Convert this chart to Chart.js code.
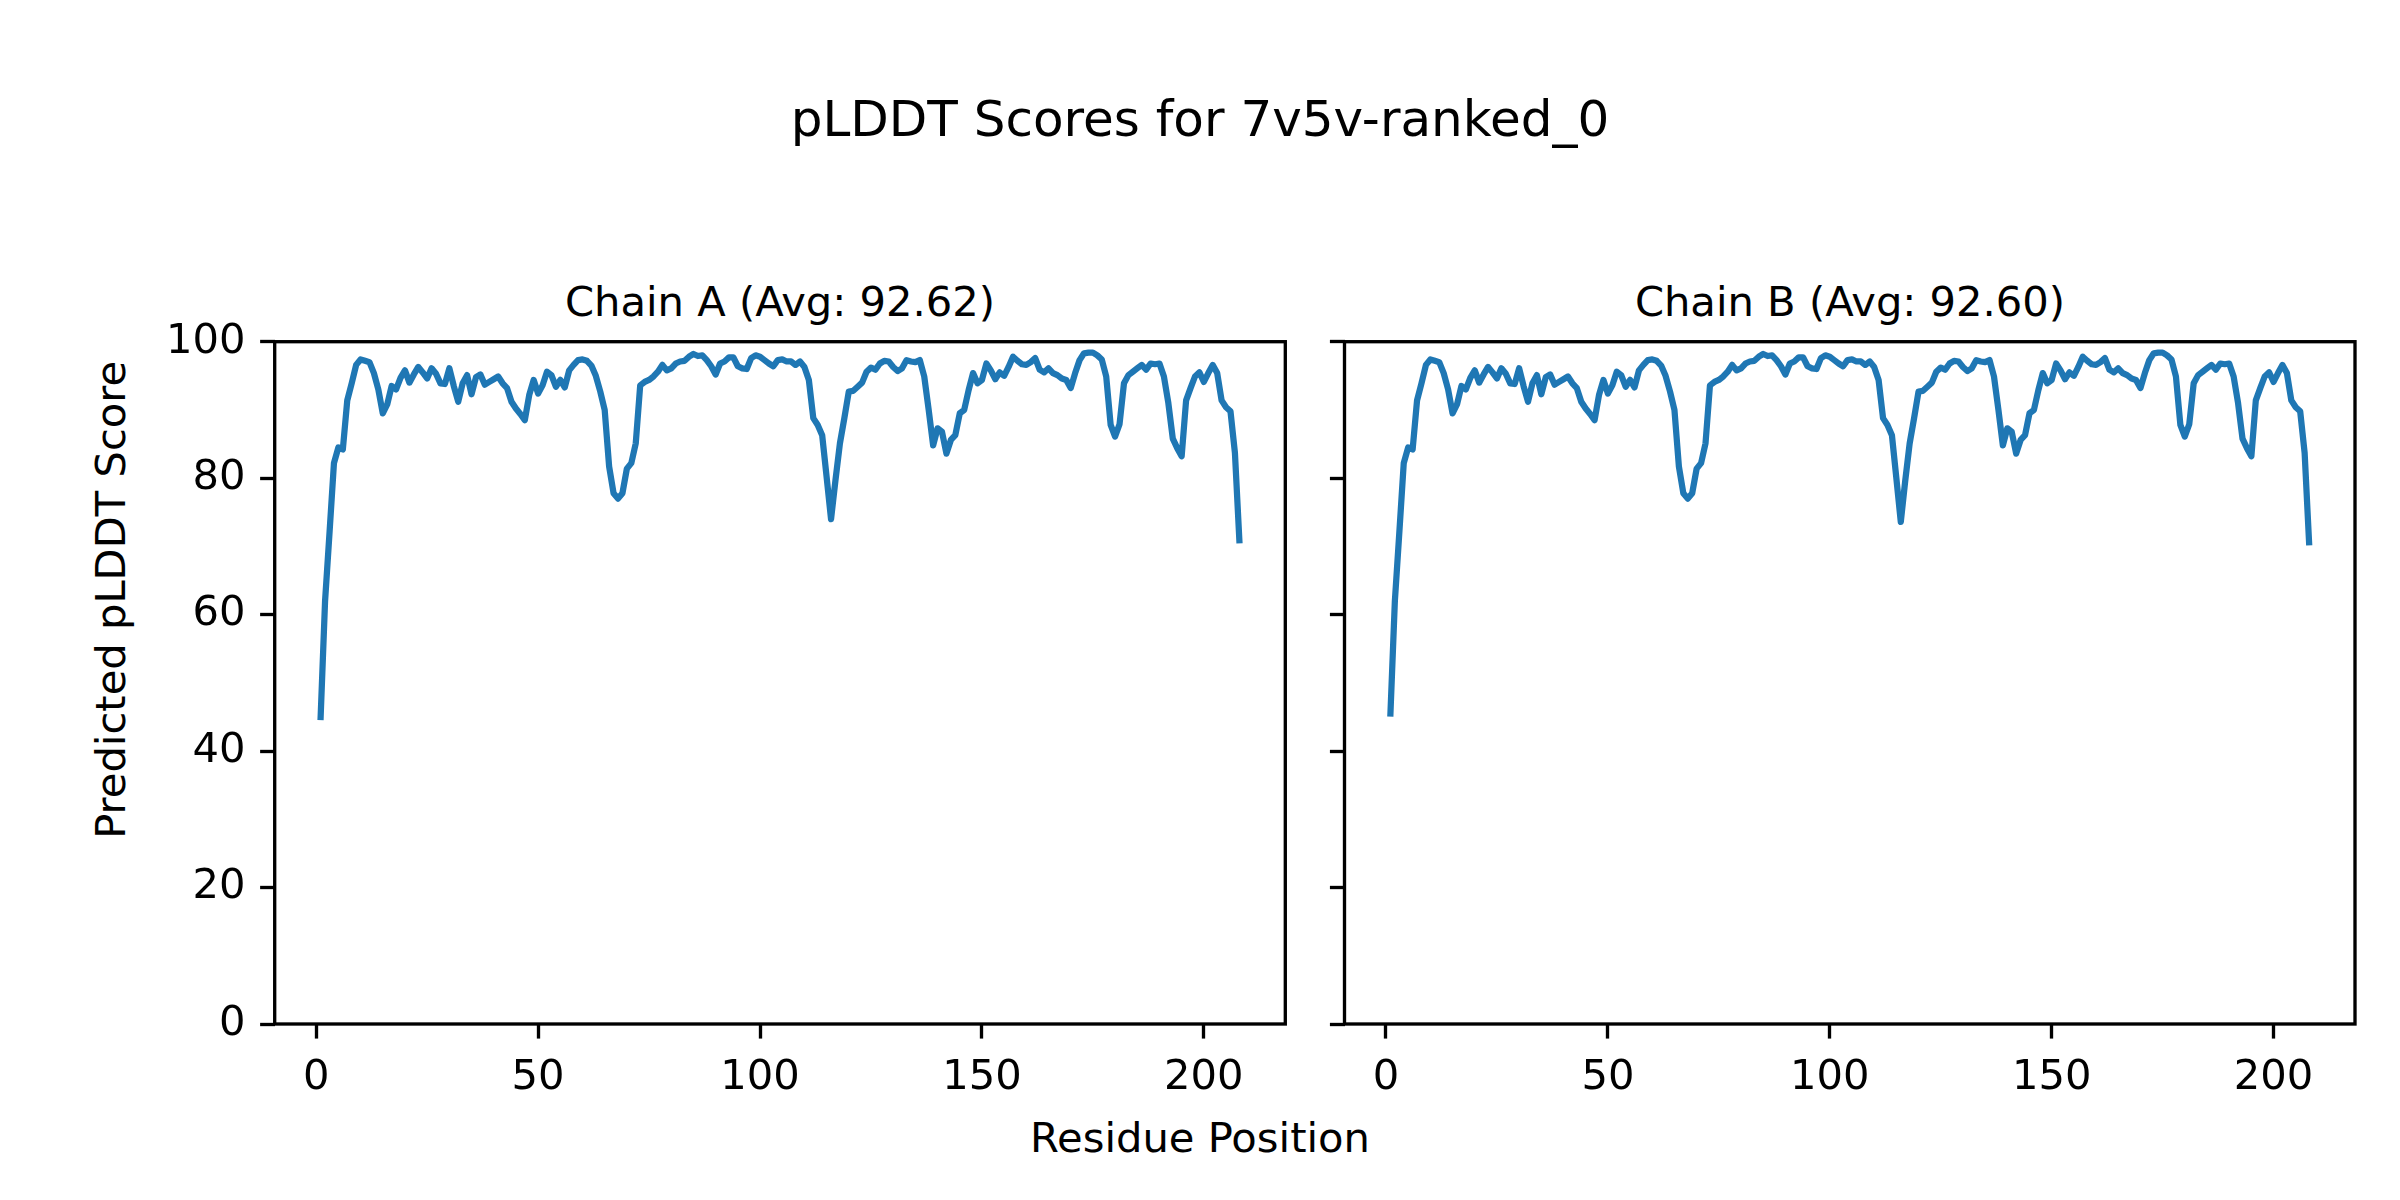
<!DOCTYPE html>
<html>
<head>
<meta charset="utf-8">
<script src="https://cdn.jsdelivr.net/npm/chart.js@4.4.1/dist/chart.umd.min.js"></script>
<style>
  html, body { margin: 0; padding: 0; background: #fff; }
  #fig { position: relative; width: 2400px; height: 1200px; background: #fff; overflow: hidden; font-family: "DejaVu Sans", sans-serif; color: #000; }
  .txt { position: absolute; white-space: nowrap; line-height: 1; }
  canvas { position: absolute; top: 0; }
</style>
</head>
<body>
<div id="fig">
  <div class="txt" id="suptitle" style="font-size:50px; left:0; width:2400px; text-align:center; top:93.7px;">pLDDT Scores for 7v5v-ranked_0</div>
  <div class="txt" id="titleA" style="font-size:41.67px; left:280px; width:1000px; text-align:center; top:281.4px;"></div>
  <div class="txt" id="titleB" style="font-size:41.67px; left:1350px; width:1000px; text-align:center; top:281.4px;"></div>
  <div class="txt" id="xlabel" style="font-size:41.67px; left:0; width:2400px; text-align:center; top:1116.7px;">Residue Position</div>
  <div class="txt" id="ylabel" style="font-size:41.67px; left:-389px; width:1000px; text-align:center; top:579.2px; transform: rotate(-90deg);">Predicted pLDDT Score</div>
  <canvas id="cA" width="1320" height="1200" style="left:0px;"></canvas>
  <canvas id="cB" width="1100" height="1200" style="left:1300px;"></canvas>
</div>
<script>
// ---- data ----
const chainNames = ["Chain A", "Chain B"];
const chainAvg = ["92.62", "92.60"];

const chainA = [
  45.0, 62.0, 72.0, 82.2, 84.5, 84.2, 91.4, 93.9, 96.6, 97.4,
  97.2, 97.0, 95.4, 93.0, 89.5, 90.8, 93.5, 93.0, 94.7, 95.8,
  94.0, 95.2, 96.3, 95.5, 94.6, 96.1, 95.3, 93.9, 93.8, 96.1,
  93.5, 91.2, 93.9, 95.1, 92.3, 94.8, 95.2, 93.7, 94.1, 94.5,
  94.9, 93.9, 93.2, 91.2, 90.2, 89.4, 88.5, 92.2, 94.4, 92.4,
  93.6, 95.6, 95.1, 93.4, 94.4, 93.3, 95.8, 96.6, 97.3, 97.4,
  97.2, 96.5, 95.0, 92.7, 90.0, 81.7, 77.8, 77.0, 77.8, 81.4,
  82.2, 85.1, 93.6, 94.1, 94.4, 94.9, 95.6, 96.6, 95.8, 96.1,
  96.8, 97.1, 97.2, 97.8, 98.2, 97.9, 98.0, 97.3, 96.4, 95.2,
  96.8, 97.1, 97.7, 97.7, 96.4, 96.1, 96.0, 97.6, 98.0, 97.8,
  97.3, 96.8, 96.4, 97.3, 97.4, 97.1, 97.1, 96.6, 97.1, 96.3,
  94.4, 88.8, 87.8, 86.3, 80.2, 74.0, 79.7, 85.1, 88.8, 92.7,
  92.8, 93.4, 94.0, 95.6, 96.2, 95.9, 96.8, 97.2, 97.1, 96.3,
  95.7, 96.1, 97.3, 97.1, 97.0, 97.3, 94.9, 90.0, 84.8, 87.3,
  86.8, 83.6, 85.6, 86.3, 89.5, 90.0, 92.9, 95.4, 93.9, 94.4,
  96.8, 95.8, 94.5, 95.5, 95.0, 96.3, 97.8, 97.2, 96.7, 96.6,
  97.0, 97.6, 95.9, 95.5, 96.1, 95.4, 95.1, 94.6, 94.4, 93.2,
  95.4, 97.3, 98.3, 98.4, 98.4, 98.0, 97.4, 94.9, 87.8, 86.1,
  87.9, 93.9, 95.1, 95.6, 96.1, 96.6, 95.9, 96.8, 96.7, 96.8,
  94.9, 91.0, 85.8, 84.4, 83.2, 91.4, 93.2, 94.9, 95.5, 94.1,
  95.4, 96.6, 95.4, 91.4, 90.4, 89.8, 83.7, 70.9
];

const chainB = [
  45.5, 62.0, 72.0, 82.2, 84.5, 84.2, 91.4, 93.9, 96.6, 97.4,
  97.2, 97.0, 95.4, 93.0, 89.5, 90.8, 93.5, 93.0, 94.7, 95.8,
  94.0, 95.2, 96.3, 95.5, 94.6, 96.1, 95.3, 93.9, 93.8, 96.1,
  93.5, 91.2, 93.9, 95.1, 92.3, 94.8, 95.2, 93.7, 94.1, 94.5,
  94.9, 93.9, 93.2, 91.2, 90.2, 89.4, 88.5, 92.2, 94.4, 92.4,
  93.6, 95.6, 95.1, 93.4, 94.4, 93.3, 95.8, 96.6, 97.3, 97.4,
  97.2, 96.5, 95.0, 92.7, 90.0, 81.7, 77.8, 77.0, 77.8, 81.4,
  82.2, 85.1, 93.6, 94.1, 94.4, 94.9, 95.6, 96.6, 95.8, 96.1,
  96.8, 97.1, 97.2, 97.8, 98.2, 97.9, 98.0, 97.3, 96.4, 95.2,
  96.8, 97.1, 97.7, 97.7, 96.4, 96.1, 96.0, 97.6, 98.0, 97.8,
  97.3, 96.8, 96.4, 97.3, 97.4, 97.1, 97.1, 96.6, 97.1, 96.3,
  94.4, 88.8, 87.8, 86.3, 80.0, 73.6, 79.6, 85.1, 88.8, 92.7,
  92.8, 93.4, 94.0, 95.6, 96.2, 95.9, 96.8, 97.2, 97.1, 96.3,
  95.7, 96.1, 97.3, 97.1, 97.0, 97.3, 94.9, 90.0, 84.8, 87.3,
  86.8, 83.6, 85.6, 86.3, 89.5, 90.0, 92.9, 95.4, 93.9, 94.4,
  96.8, 95.8, 94.5, 95.5, 95.0, 96.3, 97.8, 97.2, 96.7, 96.6,
  97.0, 97.6, 95.9, 95.5, 96.1, 95.4, 95.1, 94.6, 94.4, 93.2,
  95.4, 97.3, 98.3, 98.4, 98.4, 98.0, 97.4, 94.9, 87.8, 86.1,
  87.9, 93.9, 95.1, 95.6, 96.1, 96.6, 95.9, 96.8, 96.7, 96.8,
  94.9, 91.0, 85.8, 84.4, 83.2, 91.4, 93.2, 94.9, 95.5, 94.1,
  95.4, 96.6, 95.4, 91.4, 90.4, 89.8, 83.7, 70.6
];

const xTicks = [0, 50, 100, 150, 200];
const yTicks = [0, 20, 40, 60, 80, 100];

// ---- presentation ----
const X_MIN = -9.35, X_MAX = 218.35;
const PX = 1200 / 4.0 / 72;          // px per point at 300 dpi
const SPINE = 0.8 * PX;
const TICK_LEN = 3.5 * PX;
const TICK_PAD = 3.5 * PX;
const FONT = { family: "DejaVu Sans", size: 10 * PX };
const LINE_COLOR = "#1f77b4";
const AREA_TOP = 341.7, AREA_BOTTOM = 1024;

document.getElementById("titleA").textContent = chainNames[0] + " (Avg: " + chainAvg[0] + ")";
document.getElementById("titleB").textContent = chainNames[1] + " (Avg: " + chainAvg[1] + ")";

const framePlugin = {
  id: "frame",
  afterDatasetsDraw(chart) {
    const a = chart.chartArea, ctx = chart.ctx;
    ctx.save();
    ctx.strokeStyle = "#000";
    ctx.lineWidth = SPINE;
    ctx.lineJoin = "miter";
    ctx.strokeRect(a.left, a.top, a.right - a.left, a.bottom - a.top);
    ctx.restore();
  }
};

function makeChart(id, values, leftWidth, rightPad, showYLabels) {
  const residues = values.map((_, i) => i + 1);
  return new Chart(document.getElementById(id), {
    type: "line",
    data: {
      datasets: [{
        data: values.map((v, i) => ({ x: residues[i], y: v })),
        borderColor: LINE_COLOR,
        borderWidth: 1.5 * PX,
        pointRadius: 0,
        fill: false,
        tension: 0,
        borderJoinStyle: "round",
        borderCapStyle: "square"
      }]
    },
    options: {
      responsive: false,
      animation: false,
      layout: { padding: { top: AREA_TOP, right: rightPad, left: 0, bottom: 0 } },
      plugins: { legend: { display: false }, tooltip: { enabled: false }, title: { display: false } },
      scales: {
        x: {
          type: "linear", min: X_MIN, max: X_MAX,
          afterBuildTicks: s => { s.ticks = xTicks.map(v => ({ value: v })); },
          afterFit: s => { s.height = 1200 - AREA_BOTTOM; },
          grid: { drawOnChartArea: false, drawTicks: true, tickLength: TICK_LEN, tickWidth: SPINE, tickColor: "#000" },
          border: { display: false },
          ticks: { color: "#000", font: FONT, padding: TICK_PAD, maxRotation: 0, autoSkip: false }
        },
        y: {
          type: "linear", min: 0, max: 100,
          afterBuildTicks: s => { s.ticks = yTicks.map(v => ({ value: v })); },
          afterFit: s => { s.width = leftWidth; },
          grid: { drawOnChartArea: false, drawTicks: true, tickLength: TICK_LEN, tickWidth: SPINE, tickColor: "#000" },
          border: { display: false },
          ticks: { display: showYLabels, color: "#000", font: FONT, padding: TICK_PAD, autoSkip: false }
        }
      }
    },
    plugins: [framePlugin]
  });
}

makeChart("cA", chainA, 274.7, 1320 - 1285.3, true);
makeChart("cB", chainB, 1344.5 - 1300, 1100 - (2355 - 1300), false);
</script>
</body>
</html>
